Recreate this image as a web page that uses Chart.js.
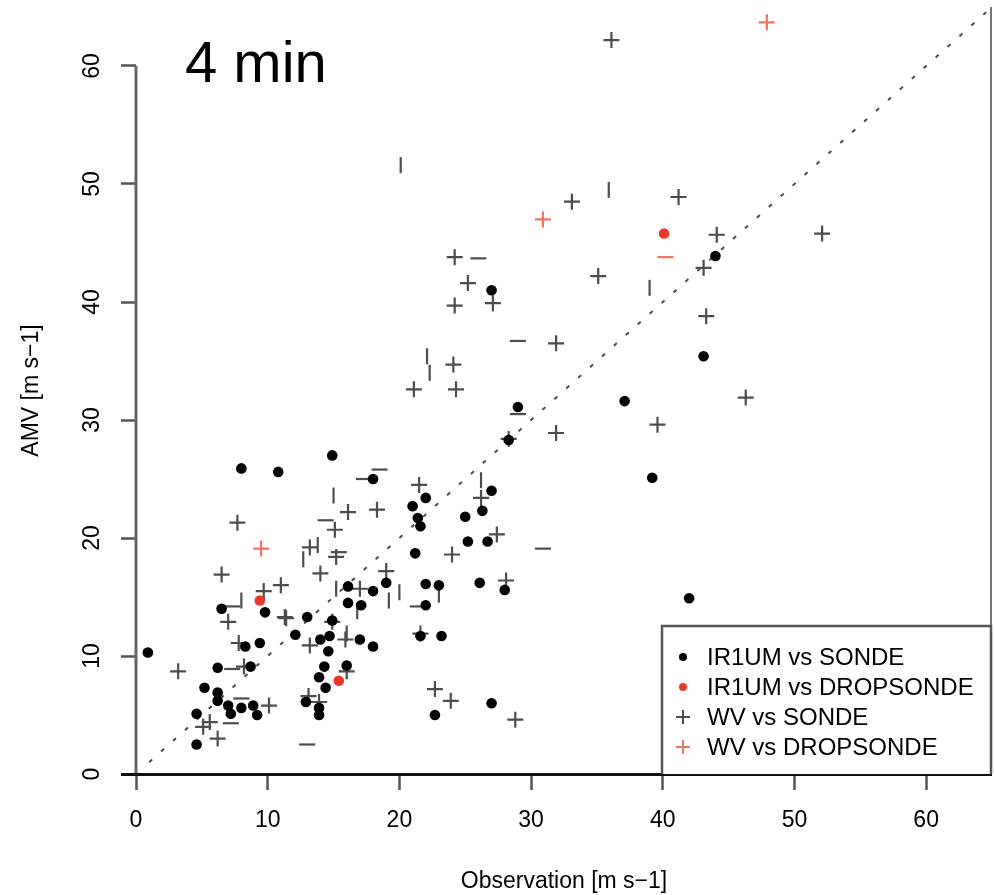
<!DOCTYPE html>
<html lang="en">
<head>
    <meta charset="UTF-8">
    <title>AMV vs Observation</title>
    <style>
        html, body { margin: 0; padding: 0; background: #fff; }
    </style>
</head>
<body>
    <canvas id="scatter" width="994" height="895"></canvas>
    <script src="https://cdn.jsdelivr.net/npm/chart.js@4.4.1/dist/chart.umd.min.js"></script>
    <script>
        // [observation, AMV] pairs in m s-1
        const ir1umSonde = [
            [0.9, 10.3], [8.0, 25.9], [10.8, 25.6], [14.9, 27.0], [18.0, 25.0], [22.0, 23.4], [21.0, 22.7],
            [21.4, 21.7], [21.6, 21.0], [27.0, 24.0], [26.3, 22.3], [25.0, 21.8], [25.2, 19.7], [26.7, 19.7],
            [21.2, 18.7], [19.0, 16.2], [18.0, 15.5], [16.1, 15.9], [22.0, 16.1], [23.0, 16.0], [26.1, 16.2],
            [28.0, 15.6], [17.1, 14.3], [16.1, 14.5], [22.0, 14.3], [28.3, 28.3], [6.5, 14.0], [9.8, 13.7],
            [13.0, 13.3], [14.9, 13.0], [12.1, 11.8], [14.0, 11.4], [14.7, 11.7], [14.6, 10.4], [9.4, 11.1],
            [8.3, 10.8], [6.2, 9.0], [8.7, 9.1], [14.3, 9.1], [16.0, 9.2], [13.9, 8.2], [14.4, 7.3], [5.2, 7.3],
            [6.2, 6.9], [6.2, 6.2], [7.0, 5.8], [8.0, 5.6], [8.9, 5.8], [7.2, 5.1], [9.2, 5.0], [4.6, 5.1],
            [4.6, 2.5], [12.9, 6.1], [13.9, 5.6], [13.9, 5.0], [21.6, 11.7], [23.2, 11.7], [17.0, 11.4],
            [18.0, 10.8], [22.7, 5.0], [27.0, 6.0], [27.0, 41.0], [29.0, 31.1], [37.1, 31.6], [44.0, 43.9],
            [43.1, 35.4], [39.2, 25.1], [42.0, 14.9]
        ]
        const ir1umDropsonde = [[9.4, 14.7], [15.4, 7.9], [40.1, 45.8]]

        const wvSonde = [
            [36.1, 62.2], [33.1, 48.5], [24.2, 43.8], [25.2, 41.6], [35.1, 42.2], [41.2, 48.9], [44.1, 45.7],
            [43.1, 42.9], [52.1, 45.8], [24.2, 39.7], [27.1, 39.9], [31.9, 36.5], [24.1, 34.7], [21.1, 32.6],
            [24.3, 32.6], [31.9, 28.9], [39.6, 29.6], [28.3, 28.4], [43.3, 38.8], [46.3, 31.9], [21.5, 24.5],
            [26.2, 23.4], [16.1, 22.2], [18.3, 22.4], [27.4, 20.3], [24.0, 18.6], [19.0, 17.2], [17.0, 15.7],
            [28.1, 16.4], [15.1, 20.7], [7.7, 21.3], [13.2, 19.2], [15.2, 18.4], [14.0, 17.0], [6.5, 16.9],
            [11.0, 16.0], [9.7, 15.5], [11.3, 13.3], [7.0, 12.9], [11.4, 13.2], [14.9, 12.9], [15.9, 11.4],
            [13.2, 10.9], [7.8, 11.1], [3.2, 8.7], [8.2, 9.1], [16.0, 8.7], [13.1, 6.6], [13.9, 6.1],
            [10.1, 5.8], [5.6, 4.4], [5.1, 4.0], [6.2, 3.0], [21.6, 11.9], [22.7, 7.2], [23.9, 6.2], [28.8, 4.6]
        ]
        // crosses that only show one stroke in the scanned figure
        const wvSondeFlat = [
            [26.0, 43.7], [29.0, 36.7], [29.0, 30.5], [18.5, 25.8], [17.3, 25.0], [14.4, 21.5], [30.9, 19.1],
            [15.4, 18.8], [7.3, 14.2], [21.4, 14.2], [7.3, 8.9], [8.0, 6.4], [7.2, 4.3], [13.0, 2.5]
        ]
        const wvSondeUpright = [
            [20.1, 51.6], [35.9, 49.5], [39.0, 41.2], [22.1, 35.4], [22.3, 34.0], [26.2, 24.9], [15.0, 23.6],
            [13.8, 19.4], [12.7, 18.2], [15.2, 15.7], [8.0, 14.7], [20.0, 15.4], [19.2, 14.7], [23.0, 15.2],
            [16.8, 13.8], [16.0, 11.9]
        ]
        const wvDropsonde = [[9.5, 19.1], [30.9, 47.0], [47.9, 63.7]]
        const wvDropsondeFlat = [[40.2, 43.8]]

        const oneToOne = [1, 65]
        const axisTicks = [0, 10, 20, 30, 40, 50, 60]
        const axisMax = 65
        const panelLabel = '4 min'

        const FONT = '"Liberation Sans", Arial, sans-serif'
        const GREY = '#4d4d4d'
        const RED_DOT = '#e8392a'
        const RED_CROSS = '#f07463'

        const toXY = arr => arr.map(([x, y]) => ({ x, y }))

        const dotSet = (label, data, color) => ({
            label, data: toXY(data), pointStyle: 'circle', pointRadius: 5.3,
            pointBackgroundColor: color, pointBorderColor: color, pointBorderWidth: 0, showLine: false
        })
        const crossSet = (label, data, color, style, rotation) => ({
            label, data: toXY(data), pointStyle: style, pointRotation: rotation || 0, pointRadius: 8,
            pointBorderColor: color, pointBackgroundColor: color, pointBorderWidth: 2.2, showLine: false
        })

        const datasets = [
            dotSet('IR1UM vs SONDE', ir1umSonde, '#000'),
            dotSet('IR1UM vs DROPSONDE', ir1umDropsonde, RED_DOT),
            crossSet('WV vs SONDE', wvSonde, GREY, 'cross'),
            crossSet('WV vs DROPSONDE', wvDropsonde, RED_CROSS, 'cross'),
            Object.assign(crossSet('', wvSondeFlat, GREY, 'line', 0), { hideInLegend: true }),
            Object.assign(crossSet('', wvSondeUpright, GREY, 'line', 90), { hideInLegend: true }),
            Object.assign(crossSet('', wvDropsondeFlat, RED_CROSS, 'line', 0), { hideInLegend: true }),
            {
                label: '', hideInLegend: true, type: 'line',
                data: oneToOne.map(v => ({ x: v, y: v })),
                borderColor: '#4a4a4a', borderWidth: 2, borderDash: [4, 12],
                pointRadius: 0, fill: false
            }
        ]

        // axis lines, panel label and the boxed legend
        const decor = {
            id: 'decor',
            beforeDatasetsDraw(chart) {
                const { ctx, chartArea: a, scales: { y } } = chart
                ctx.save()
                ctx.strokeStyle = '#666'
                ctx.lineWidth = 3
                ctx.beginPath()
                ctx.moveTo(a.left, y.getPixelForValue(axisTicks[0]))
                ctx.lineTo(a.left, y.getPixelForValue(axisTicks[axisTicks.length - 1]))
                ctx.stroke()
                ctx.strokeStyle = '#777'
                ctx.lineWidth = 2
                ctx.beginPath()
                ctx.moveTo(a.right - 1, a.top)
                ctx.lineTo(a.right - 1, a.bottom)
                ctx.stroke()
                ctx.strokeStyle = '#111'
                ctx.lineWidth = 3
                ctx.beginPath()
                ctx.moveTo(a.left - 15, a.bottom + 0.5)
                ctx.lineTo(a.right, a.bottom + 0.5)
                ctx.stroke()
                ctx.restore()
            },
            afterDatasetsDraw(chart) {
                const { ctx, chartArea: a } = chart
                ctx.save()
                ctx.fillStyle = '#000'
                ctx.font = '58px ' + FONT
                ctx.textBaseline = 'alphabetic'
                ctx.fillText(panelLabel, a.left + 49, a.top + 75)

                const left = a.right - 330, top = a.bottom - 148
                ctx.fillStyle = '#fff'
                ctx.fillRect(left, top, a.right - left, a.bottom - top)
                ctx.strokeStyle = '#555'
                ctx.lineWidth = 2.5
                ctx.beginPath()
                ctx.moveTo(left, a.bottom)
                ctx.lineTo(left, top)
                ctx.lineTo(a.right - 1, top)
                ctx.lineTo(a.right - 1, a.bottom)
                ctx.stroke()

                const items = chart.data.datasets.filter(d => !d.hideInLegend)
                ctx.font = '24px ' + FONT
                ctx.textBaseline = 'middle'
                items.forEach((d, i) => {
                    const cy = top + 31 + i * 30
                    const cx = left + 21
                    if (d.pointStyle === 'circle') {
                        ctx.fillStyle = d.pointBackgroundColor
                        ctx.beginPath()
                        ctx.arc(cx, cy, 4, 0, Math.PI * 2)
                        ctx.fill()
                    } else {
                        ctx.strokeStyle = d.pointBorderColor
                        ctx.lineWidth = 2
                        ctx.beginPath()
                        ctx.moveTo(cx - 7, cy)
                        ctx.lineTo(cx + 7, cy)
                        ctx.moveTo(cx, cy - 7)
                        ctx.lineTo(cx, cy + 7)
                        ctx.stroke()
                    }
                    ctx.fillStyle = '#000'
                    ctx.fillText(d.label, left + 45, cy + 1)
                })
                ctx.restore()
            }
        }

        const tickFont = { family: FONT, size: 23 }
        const setTicks = scale => { scale.ticks = axisTicks.map(v => ({ value: v })) }
        const noPad = s => { s.paddingTop = s.paddingBottom = s.paddingLeft = s.paddingRight = 0 }

        const chart = new Chart(document.getElementById('scatter'), {
            type: 'scatter',
            data: { datasets },
            plugins: [decor],
            options: {
                responsive: false,
                animation: false,
                layout: { autoPadding: false, padding: { top: 7, right: 2, left: 0, bottom: 0 } },
                plugins: { legend: { display: false }, tooltip: { enabled: false } },
                scales: {
                    x: {
                        type: 'linear', min: 0, max: axisMax,
                        afterBuildTicks: setTicks,
                        afterFit: s => { s.height = 121; noPad(s) },
                        border: { display: false },
                        grid: { drawOnChartArea: false, tickLength: 16, tickColor: '#555', tickWidth: 2.5 },
                        ticks: { padding: 17, color: '#000', font: tickFont, maxRotation: 0, autoSkip: false },
                        title: {
                            display: true, text: 'Observation [m s\u22121]', color: '#000',
                            font: tickFont, padding: { top: 0, bottom: 0 }
                        }
                    },
                    y: {
                        type: 'linear', min: 0, max: axisMax,
                        afterBuildTicks: setTicks,
                        afterFit: s => { s.width = 136; noPad(s) },
                        border: { display: false },
                        grid: { drawOnChartArea: false, tickLength: 15, tickColor: '#555', tickWidth: 2.5 },
                        ticks: {
                            padding: 16, color: '#000', font: tickFont,
                            minRotation: 90, maxRotation: 90, crossAlign: 'center', autoSkip: false
                        },
                        title: {
                            display: true, text: 'AMV [m s\u22121]', color: '#000',
                            font: tickFont, padding: { top: 18, bottom: 0 }
                        }
                    }
                }
            }
        })
    </script>
</body>
</html>
